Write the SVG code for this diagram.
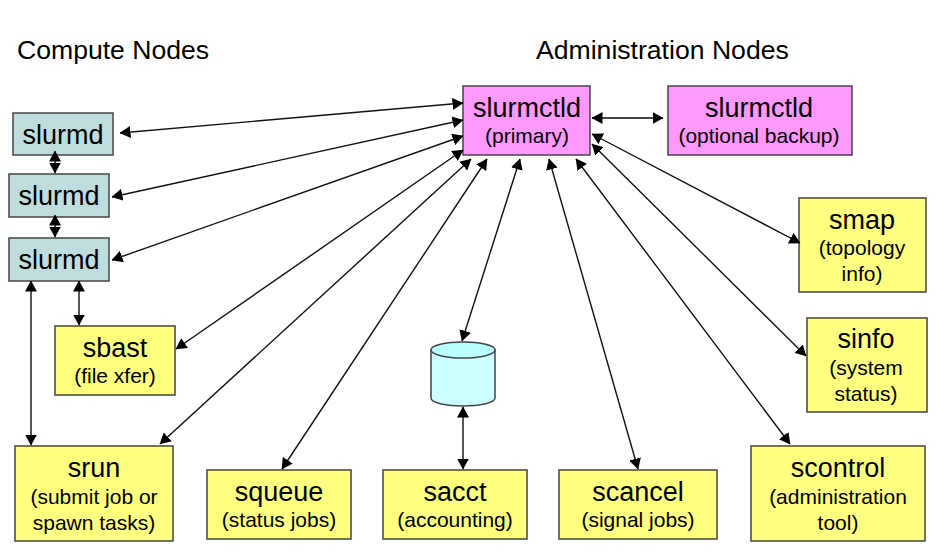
<svg xmlns="http://www.w3.org/2000/svg" width="945" height="559" viewBox="0 0 945 559">
<style>
text{font-family:"Liberation Sans",Arial,sans-serif;fill:#000;text-anchor:middle}
.h{font-size:26.6px;text-anchor:start}
.t{font-size:27px}
.s{font-size:21px}
.b{stroke:#444;stroke-width:1.5}
.cy{fill:#bfdddd}.ma{fill:#ff99ff}.ye{fill:#ffff80}
.c line{stroke:#111;stroke-width:1.4;marker-start:url(#a);marker-end:url(#a)}
.c line.g{stroke:#444;stroke-width:1.8}
</style>
<defs>
<marker id="a" viewBox="0 0 11 12" refX="10.500" refY="6" markerUnits="userSpaceOnUse" markerWidth="11" markerHeight="12" orient="auto-start-reverse"><path d="M0 0L11 6L0 12Z" fill="#000"/></marker>
</defs>
<rect width="945" height="559" fill="#fff"/>
<text class="h" x="17" y="59">Compute Nodes</text>
<text class="h" x="536" y="59">Administration Nodes</text>
<g id="slurmd1"><rect class="b cy" x="13" y="113" width="100" height="42"/><text class="t" x="63" y="143.500">slurmd</text></g>
<g id="slurmd2"><rect class="b cy" x="9" y="174" width="100" height="43"/><text class="t" x="59" y="204.500">slurmd</text></g>
<g id="slurmd3"><rect class="b cy" x="9" y="238" width="100" height="43"/><text class="t" x="59" y="268.500">slurmd</text></g>
<g id="slurmctld-primary"><rect class="b ma" x="463" y="86" width="127" height="69"/><text class="t" x="527" y="116.500">slurmctld</text><text class="s" x="527" y="143">(primary)</text></g>
<g id="slurmctld-backup"><rect class="b ma" x="668" y="86" width="184" height="69"/><text class="t" x="759" y="116.500">slurmctld</text><text class="s" x="759" y="143">(optional backup)</text></g>
<g id="smap"><rect class="b ye" x="799" y="198" width="127" height="94"/><text class="t" x="862" y="228.500">smap</text><text class="s" x="862" y="255">(topology</text><text class="s" x="862" y="281">info)</text></g>
<g id="sinfo"><rect class="b ye" x="807" y="318" width="120" height="94"/><text class="t" x="866" y="347.500">sinfo</text><text class="s" x="866" y="375">(system</text><text class="s" x="866" y="401">status)</text></g>
<g id="sbast"><rect class="b ye" x="55" y="326" width="120" height="69"/><text class="t" x="115" y="356.500">sbast</text><text class="s" x="115" y="383">(file xfer)</text></g>
<g id="database"><path class="b" d="M431 350V398C431 408.500 495 408.500 495 398V350Z" fill="#ccffff"/><ellipse class="b" cx="463" cy="350" rx="32" ry="8" fill="#b8ffff"/></g>
<g id="srun"><rect class="b ye" x="15" y="446" width="158" height="95"/><text class="t" x="94" y="476.500">srun</text><text class="s" x="94" y="504">(submit job or</text><text class="s" x="94" y="530">spawn tasks)</text></g>
<g id="squeue"><rect class="b ye" x="207" y="470" width="144" height="69"/><text class="t" x="279" y="500.500">squeue</text><text class="s" x="279" y="527">(status jobs)</text></g>
<g id="sacct"><rect class="b ye" x="383" y="470" width="144" height="69"/><text class="t" x="455" y="500.500">sacct</text><text class="s" x="455" y="527">(accounting)</text></g>
<g id="scancel"><rect class="b ye" x="559" y="470" width="158" height="69"/><text class="t" x="638" y="500.500">scancel</text><text class="s" x="638" y="527">(signal jobs)</text></g>
<g id="scontrol"><rect class="b ye" x="751" y="446" width="174" height="95"/><text class="t" x="838" y="476.500">scontrol</text><text class="s" x="838" y="504">(administration</text><text class="s" x="838" y="530">tool)</text></g>
<g class="c" id="connectors">
<line x1="120" y1="133" x2="463" y2="103"/>
<line x1="112" y1="197" x2="463" y2="120"/>
<line x1="112" y1="260" x2="463" y2="136"/>
<line x1="176" y1="349" x2="463" y2="150"/>
<line x1="160" y1="444" x2="471" y2="159"/>
<line x1="282" y1="469" x2="487" y2="159"/>
<line x1="462" y1="341" x2="520" y2="159"/>
<line x1="638" y1="469" x2="549" y2="159"/>
<line x1="790" y1="444" x2="576" y2="159"/>
<line x1="806" y1="356" x2="592" y2="144"/>
<line x1="800" y1="243" x2="592" y2="134"/>
<line class="g" x1="592" y1="118" x2="663" y2="118"/>
<line class="g" x1="55" y1="151" x2="55" y2="173"/>
<line class="g" x1="55" y1="215" x2="55" y2="237"/>
<line class="g" x1="79" y1="281" x2="79" y2="325"/>
<line class="g" x1="31" y1="281" x2="31" y2="445"/>
<line class="g" x1="463" y1="407" x2="463" y2="469"/>
</g>
</svg>
